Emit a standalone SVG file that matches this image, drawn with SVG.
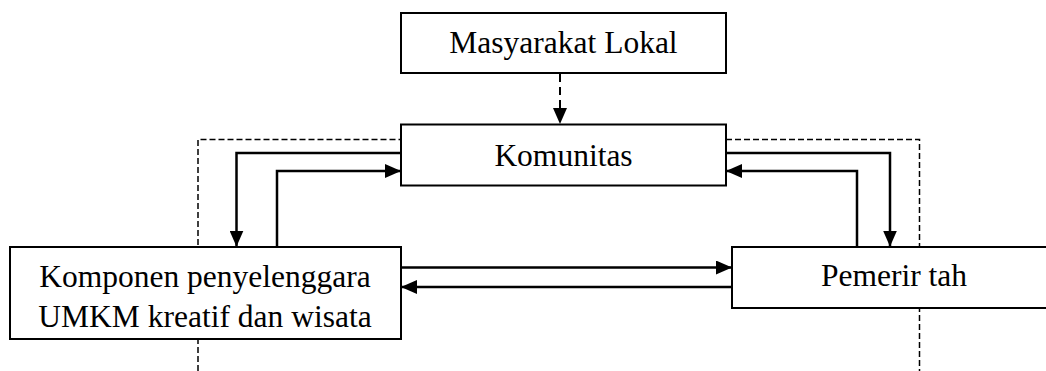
<svg xmlns="http://www.w3.org/2000/svg" width="1046" height="371" viewBox="0 0 1046 371">
<defs>
<style>
.box{fill:#fff;stroke:#000;stroke-width:2}
.t{font-family:"Liberation Serif","Times New Roman",serif;font-size:31.5px;fill:#000;text-anchor:middle}
.c{fill:none;stroke:#000;stroke-width:2.5}
.d{fill:none;stroke:#000;stroke-width:1.5;stroke-dasharray:6,3}
</style>
<marker id="ah" markerUnits="userSpaceOnUse" markerWidth="16" markerHeight="14" refX="16" refY="7" orient="auto">
<path d="M0,0 L16,7 L0,14 Z" fill="#000"/>
</marker>
</defs>
<g id="connectors">
<path class="d" d="M198,371 V139.5 H401"/>
<path class="d" d="M726,139.5 H919.5 V371"/>
<path d="M560,74 V110" fill="none" stroke="#000" stroke-width="2" stroke-dasharray="8,5"/>
<path d="M553,108 L567,108 L560,124 Z" fill="#000"/>
<path class="c" d="M401,153 H236.5 V246.5" marker-end="url(#ah)"/>
<path class="c" d="M277,246.5 V171 H401" marker-end="url(#ah)"/>
<path class="c" d="M726,153 H890 V246.5" marker-end="url(#ah)"/>
<path class="c" d="M857,246.5 V171 H726" marker-end="url(#ah)"/>
<path class="c" d="M401,267.5 H732" marker-end="url(#ah)"/>
<path class="c" d="M732,287 H401" marker-end="url(#ah)"/>
</g>
<g id="masyarakat">
<rect class="box" x="401" y="13" width="325" height="60"/>
<text class="t" x="563.5" y="53">Masyarakat Lokal</text>
</g>
<g id="komunitas">
<rect class="box" x="401" y="124.5" width="325" height="61"/>
<text class="t" x="563.5" y="166">Komunitas</text>
</g>
<g id="komponen">
<rect class="box" x="10" y="247" width="391" height="92"/>
<text class="t" x="205" y="286.5">Komponen penyelenggara</text>
<text class="t" x="205" y="327">UMKM kreatif dan wisata</text>
</g>
<g id="pemerintah">
<rect class="box" x="732" y="247" width="320" height="61"/>
<text class="t" x="894" y="286">Pemerir tah</text>
</g>
</svg>
